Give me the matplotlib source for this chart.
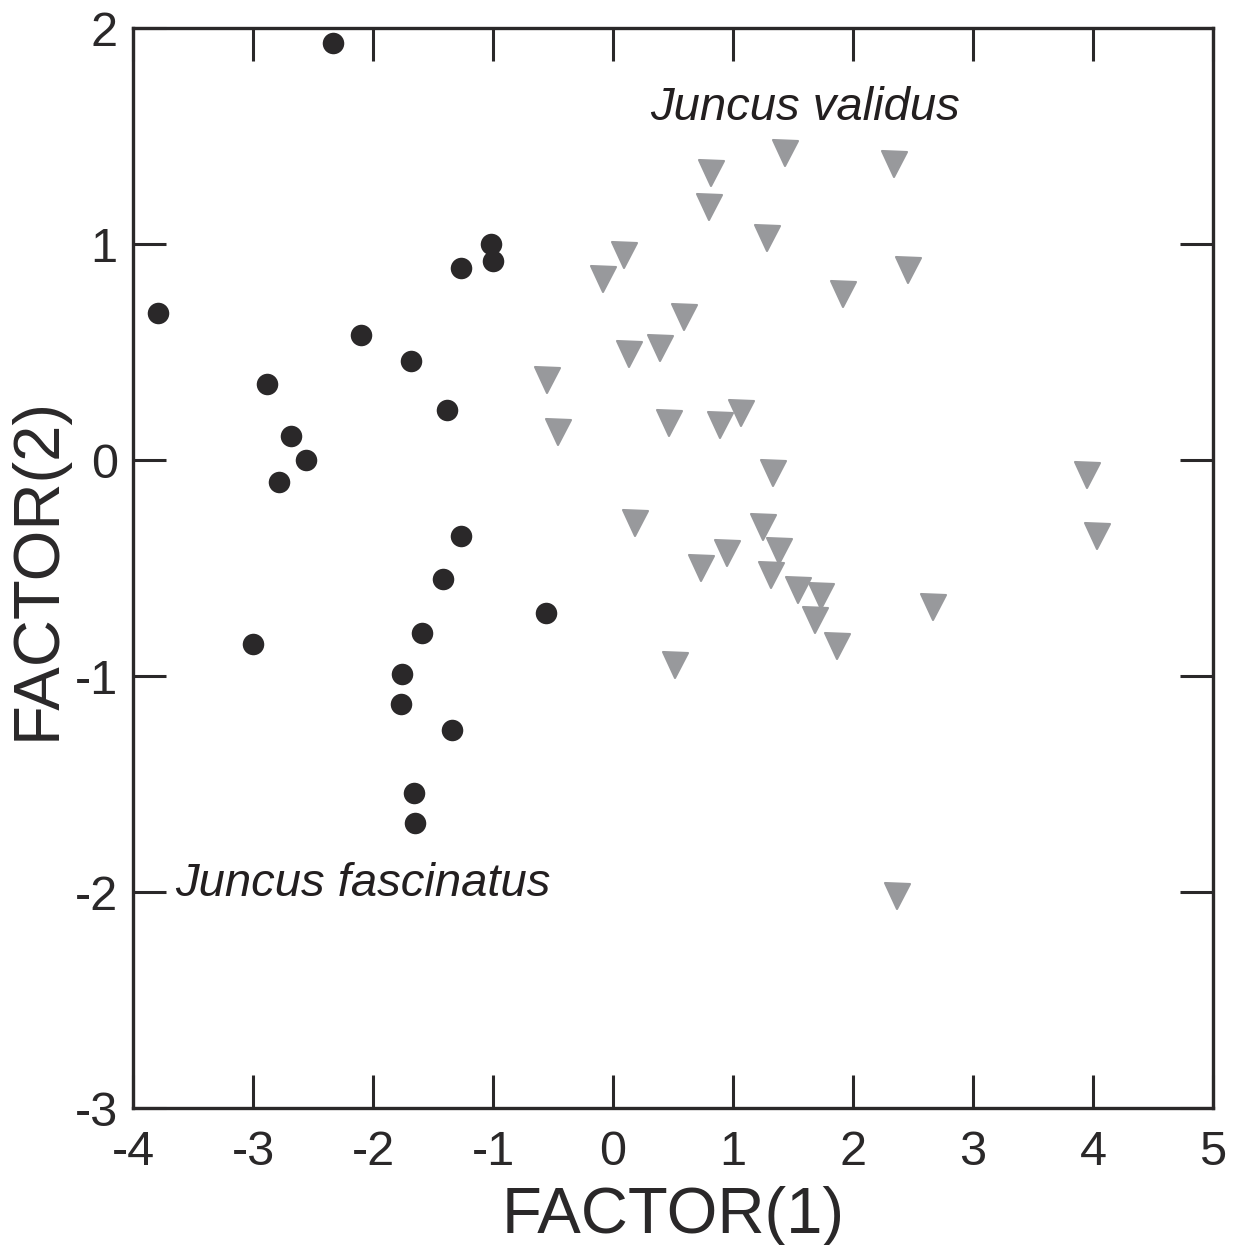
import matplotlib
matplotlib.use("Agg")
import matplotlib.pyplot as plt
from matplotlib.markers import MarkerStyle

plt.rcParams['font.family'] = ['Liberation Sans', 'DejaVu Sans']
plt.rcParams['axes.unicode_minus'] = False

# === DATA ===
# Juncus fascinatus (black circles)
fasc_x = [-2.33, -3.79, -1.02, -1.00, -1.27, -2.10, -1.68, -2.88, -1.38, -2.68, -2.56,
          -2.78, -1.27, -1.42, -0.56, -3.00, -1.59, -1.76, -1.77, -1.34, -1.66, -1.65]
fasc_y = [1.93, 0.68, 1.00, 0.92, 0.89, 0.58, 0.46, 0.35, 0.23, 0.11, 0.00,
          -0.10, -0.35, -0.55, -0.71, -0.85, -0.80, -0.99, -1.13, -1.25, -1.54, -1.68]

# Juncus validus (grey triangles)
val_x = [1.43, 2.34, 0.82, 0.80, 1.28, 0.09, -0.08, 2.46, 1.92, 0.59, 0.39, 0.13,
         -0.55, -0.46, 0.47, 0.89, 1.07, 1.33, 0.18, 1.25, 3.95, 4.03, 1.38, 0.95,
         0.73, 1.32, 1.54, 1.73, 1.68, 1.87, 2.67, 0.52, 2.37]
val_y = [1.42, 1.37, 1.33, 1.17, 1.03, 0.95, 0.84, 0.88, 0.77, 0.66, 0.52, 0.49,
         0.37, 0.13, 0.17, 0.16, 0.22, -0.06, -0.29, -0.31, -0.07, -0.35, -0.42, -0.43,
         -0.50, -0.53, -0.60, -0.63, -0.74, -0.86, -0.68, -0.95, -2.02]

x_ticks = [-4, -3, -2, -1, 0, 1, 2, 3, 4, 5]
y_ticks = [-3, -2, -1, 0, 1, 2]

# === PLOT ===
fig = plt.figure(figsize=(12.34, 12.45), dpi=100)
ax = fig.add_axes([0.1078, 0.110, 0.8752, 0.8675])

ax.plot(fasc_x, fasc_y, 'o', color='#2a2829', markersize=15.5, markeredgewidth=0)
tri = MarkerStyle('v', joinstyle='round')
ax.plot(val_x, val_y, linestyle='none', marker=tri, markersize=18, markeredgewidth=1.5,
        markeredgecolor='#98999c', markerfacecolor='#98999c')

ax.text(0.31, 1.575, "Juncus validus", style='italic', fontsize=34, color='#231f20')
ax.text(-3.65, -2.02, "Juncus fascinatus", style='italic', fontsize=34, color='#231f20')

ax.set_xlim(-4, 5)
ax.set_ylim(-3, 2)
ax.set_xticks(x_ticks)
ax.set_yticks(y_ticks)

ax.tick_params(direction='in', length=24, width=2.2, color='#2a2829',
               top=True, right=True, labelsize=35, labelcolor='#2a2829')
ax.tick_params(axis='x', pad=16)
ax.tick_params(axis='y', pad=11)

for s in ax.spines.values():
    s.set_linewidth(2.4)
    s.set_color('#2a2829')

ax.set_xlabel("FACTOR(1)", fontsize=47, color='#2a2829', labelpad=8)
ax.set_ylabel("FACTOR(2)", fontsize=47, color='#2a2829', labelpad=5)

plt.savefig("out.png", dpi=100)
